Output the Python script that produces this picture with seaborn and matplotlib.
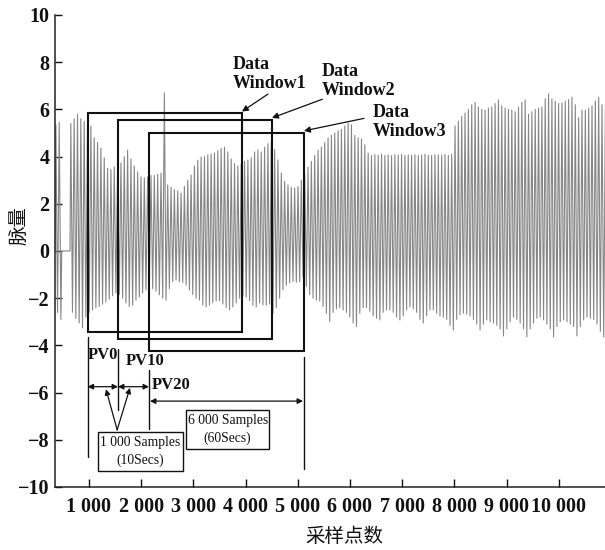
import numpy as np
import pandas as pd
import matplotlib
matplotlib.use("Agg")
import matplotlib.pyplot as plt
from matplotlib.patches import Rectangle
import seaborn as sns

# ---------------- data ----------------
# pulse recording: one peak and one trough per beat (sample index on x)
period = 64                      # samples per beat
lead_start = 350                 # first recorded sample
lead_peaks = [5.35, 5.45]
lead_troughs = [-2.6, -2.9]
gap_end = 636                    # signal is flat (0) until this sample
main_peaks = [
    5.4, 5.6, 5.8, 5.6, 5.5, 5.4, 5.3, 4.8, 4.6, 4.36,
    3.95, 3.5, 3.45, 3.56, 3.6, 3.73, 4.0, 4.28, 3.9, 3.6,
    3.35, 3.14, 3.1, 3.14, 3.2, 3.2, 3.25, 3.3, 6.7, 2.8,
    2.7, 2.6, 2.55, 2.45, 2.73, 3.0, 3.22, 3.6, 3.85, 3.98,
    4.0, 4.07, 4.1, 4.15, 4.25, 4.35, 4.4, 4.2, 3.9, 3.7,
    3.6, 3.7, 3.8, 3.86, 3.95, 4.2, 4.28, 4.2, 4.4, 4.55,
    4.62, 4.3, 3.86, 3.3, 2.95, 2.8, 2.7, 2.67, 2.73, 3.0,
    3.3, 3.56, 3.8, 4.05, 4.28, 4.4, 4.6, 4.79, 4.9, 5.0,
    5.1, 5.15, 5.3, 5.42, 5.35, 4.9, 4.8, 4.75, 4.5, 4.15,
    4.05, 4.08, 4.06, 4.1, 4.05, 4.07, 4.04, 4.08, 4.06, 4.09,
    4.05, 4.07, 4.06, 4.08, 4.05, 4.07, 4.1, 4.06, 4.05, 4.08,
    4.07, 4.06, 4.09, 4.05, 4.1, 5.3, 5.5, 5.7, 5.85, 6.0,
    6.2, 6.3, 6.1, 6.0, 5.97, 6.05, 6.1, 6.25, 6.4, 6.15,
    6.05, 6.0, 5.97, 5.9, 6.1, 6.3, 6.4, 5.8, 5.9, 6.0,
    6.05, 6.1, 6.45, 6.67, 6.45, 6.35, 6.25, 6.28, 6.35, 6.42,
    6.52, 6.2, 5.65, 5.97, 5.97, 6.05, 6.15, 6.35, 6.52, 6.2,
    6.0,
]
main_troughs = [
    -2.6, -2.85, -3.05, -3.26, -2.8, -2.6, -2.5, -2.4, -2.35, -2.25,
    -2.16, -2.05, -1.9, -1.78, -1.85, -2.0, -2.2, -2.35, -2.3, -2.08,
    -1.95, -1.78, -1.65, -1.57, -1.6, -1.7, -1.86, -2.0, -2.08, -1.6,
    -1.3, -1.23, -1.3, -1.33, -1.45, -1.65, -1.85, -2.0, -2.08, -2.3,
    -2.37, -2.3, -2.2, -2.12, -2.1, -2.25, -2.4, -2.5, -2.37, -2.2,
    -2.0, -1.9, -1.95, -2.1, -2.3, -2.37, -2.2, -2.28, -2.3, -2.25,
    -2.64, -2.4, -2.0, -1.65, -1.45, -1.35, -1.3, -1.33, -1.3, -1.1,
    -1.5, -1.85, -2.0, -2.08, -2.12, -2.35, -2.64, -3.0, -2.6, -2.45,
    -2.4, -2.5, -2.6, -2.8, -3.05, -3.2, -2.64, -2.4, -2.4, -2.55,
    -2.75, -2.85, -2.92, -2.6, -2.5, -2.5, -2.6, -2.8, -2.92, -2.75,
    -2.5, -2.37, -2.45, -2.6, -2.9, -3.05, -2.75, -2.5, -2.5, -2.64,
    -2.75, -2.8, -2.9, -3.15, -3.35, -2.9, -2.7, -2.64, -2.68, -2.75,
    -2.9, -3.1, -3.35, -3.1, -2.92, -3.0, -3.05, -3.15, -3.3, -3.6,
    -3.3, -3.0, -2.8, -2.9, -3.05, -3.3, -3.64, -3.3, -3.05, -2.85,
    -2.8, -2.92, -3.1, -3.3, -3.64, -3.2, -3.0, -2.92, -3.0, -3.1,
    -3.2, -3.6, -3.2, -2.92, -2.8, -2.85, -2.9, -3.1, -3.4, -3.64,
    -3.3,
]

# sliding data windows (sample range and amplitude range)
win_names = ["Data\nWindow1", "Data\nWindow2", "Data\nWindow3"]
win_start = [975, 1556, 2149]
win_end = [3925, 4500, 5113]
win_top = [5.83, 5.56, 5.01]
win_bottom = [-3.42, -3.73, -4.24]

pv_names = ["PV0", "PV10", "PV20"]
note_texts = ["1 000 Samples\n(10Secs)", "6 000 Samples\n(60Secs)"]

x_ticks = [1000, 2000, 3000, 4000, 5000, 6000, 7000, 8000, 9000, 10000]
x_tick_labels = ["1 000", "2 000", "3 000", "4 000", "5 000",
                 "6 000", "7 000", "8 000", "9 000", "10 000"]
y_ticks = [-10, -8, -6, -4, -2, 0, 2, 4, 6, 8, 10]
y_tick_labels = ["\u221210", "\u22128", "\u22126", "\u22124", "\u22122",
                 "0", "2", "4", "6", "8", "10"]

# ---------------- build the trace ----------------
xs, ys = [lead_start], [0.0]
for i, (p, t) in enumerate(zip(lead_peaks, lead_troughs)):
    base = lead_start + period * i
    xs += [base + period * 0.25, base + period * 0.75]
    ys += [p, t]
xs += [lead_start + period * len(lead_peaks), gap_end]
ys += [0.0, 0.0]
for i, (p, t) in enumerate(zip(main_peaks, main_troughs)):
    base = gap_end + period * i
    xs += [base + period * 0.25, base + period * 0.75]
    ys += [p, t]
trace = pd.DataFrame({"sample": xs, "value": ys})

# ---------------- figure ----------------
sns.set_theme(style="ticks")
plt.rcParams["font.family"] = ["Liberation Serif", "Noto Sans CJK SC", "DejaVu Sans"]

fig = plt.figure(figsize=(6.05, 5.5), dpi=100)
ax = fig.add_axes([55 / 605, 63 / 550, 550 / 605, 472 / 550])

sns.lineplot(data=trace, x="sample", y="value", ax=ax, estimator=None,
             sort=False, color="#868686", lw=0.8)

ax.set_xlim(349, 10885)
ax.set_ylim(-10, 10)
sns.despine(ax=ax)
for s in ("left", "bottom"):
    ax.spines[s].set_linewidth(1.1)
    ax.spines[s].set_color("#222222")

ax.set_xticks(x_ticks)
ax.set_xticklabels(x_tick_labels, fontsize=14.5, fontweight="bold")
ax.set_yticks(y_ticks)
ax.set_yticklabels(y_tick_labels, fontsize=14.5, fontweight="bold")
ax.tick_params(axis="x", direction="in", length=6, width=1, pad=7, colors="#111111")
ax.tick_params(axis="y", direction="in", length=5, width=1, pad=4, colors="#111111")

ax.set_xlabel("采样点数", family=["Noto Sans CJK SC"], fontsize=14, color="#111111")
ax.xaxis.set_label_coords(0.527, -0.083)
ax.set_ylabel("脉量", family=["Noto Sans CJK SC"], fontsize=14, color="#111111")
ax.yaxis.label.set_va("center")
ax.yaxis.set_label_coords(-0.066, 0.555)

# data windows
for s, e, t, b in zip(win_start, win_end, win_top, win_bottom):
    ax.add_patch(Rectangle((s, b), e - s, t - b, fill=False, ec="#111111", lw=1.5, zorder=3))

# window labels with pointer arrows
label_xy = [(3759, 7.52), (5464, 7.21), (6435, 5.48)]
arrow_from = [(4429, 6.65), (5470, 6.43), (6268, 5.62)]
for name, lxy, afrom, e, t in zip(win_names, label_xy, arrow_from, win_end, win_top):
    ax.text(lxy[0], lxy[1], name, ha="left", va="center", fontsize=13,
            fontweight="bold", linespacing=1.15, color="#111111", zorder=4)
    ax.annotate("", xy=(e + 5, t + 0.08), xytext=afrom,
                arrowprops=dict(arrowstyle="-|>", lw=0.9, color="#111111",
                                mutation_scale=9, shrinkA=0, shrinkB=0), zorder=4)

# start markers for each window and the end of the last window
marker_x = [win_start[0], win_start[1], win_start[2], win_end[2]]
marker_y0 = [-3.63, -4.15, -5.04, -4.49]
marker_y1 = [-8.72, -6.74, -7.54, -9.24]
for mx, a, b in zip(marker_x, marker_y0, marker_y1):
    ax.plot([mx, mx], [a, b], color="#111111", lw=1.0, zorder=3)

pv_xy = [(983, -4.41), (1709, -4.64), (2201, -5.66)]
for name, (px, py) in zip(pv_names, pv_xy):
    ax.text(px, py, name, ha="left", va="center", fontsize=12,
            fontweight="bold", color="#111111", zorder=4)

# spacing arrows between windows
dbl = dict(arrowstyle="<|-|>", lw=0.9, color="#111111",
           mutation_scale=8, shrinkA=0, shrinkB=0)
ax.annotate("", xy=(win_start[0], -5.75), xytext=(win_start[1], -5.75), arrowprops=dbl)
ax.annotate("", xy=(win_start[1], -5.75), xytext=(win_start[2], -5.75), arrowprops=dbl)
ax.annotate("", xy=(2169, -6.36), xytext=(5100, -6.36), arrowprops=dbl)

# pointers from the step-size box
one = dict(arrowstyle="-|>", lw=0.9, color="#111111",
           mutation_scale=8, shrinkA=0, shrinkB=0)
ax.annotate("", xy=(1326, -5.86), xytext=(1540, -7.58), arrowprops=one)
ax.annotate("", xy=(1785, -5.80), xytext=(1540, -7.58), arrowprops=one)

# note boxes: (x0, x1, y0, y1) in data units
note_boxes = [(1178, 2795, -9.33, -7.68), (2858, 4454, -8.39, -6.74)]
for txt, (x0, x1, y0, y1) in zip(note_texts, note_boxes):
    ax.add_patch(Rectangle((x0, y0), x1 - x0, y1 - y0, fc="white",
                           ec="#111111", lw=1.0, zorder=5))
    ax.text((x0 + x1) / 2, (y0 + y1) / 2, txt, ha="center", va="center",
            fontsize=9.8, linespacing=1.45, color="#111111", zorder=6)

fig.savefig("out.png", dpi=100, facecolor="white")
